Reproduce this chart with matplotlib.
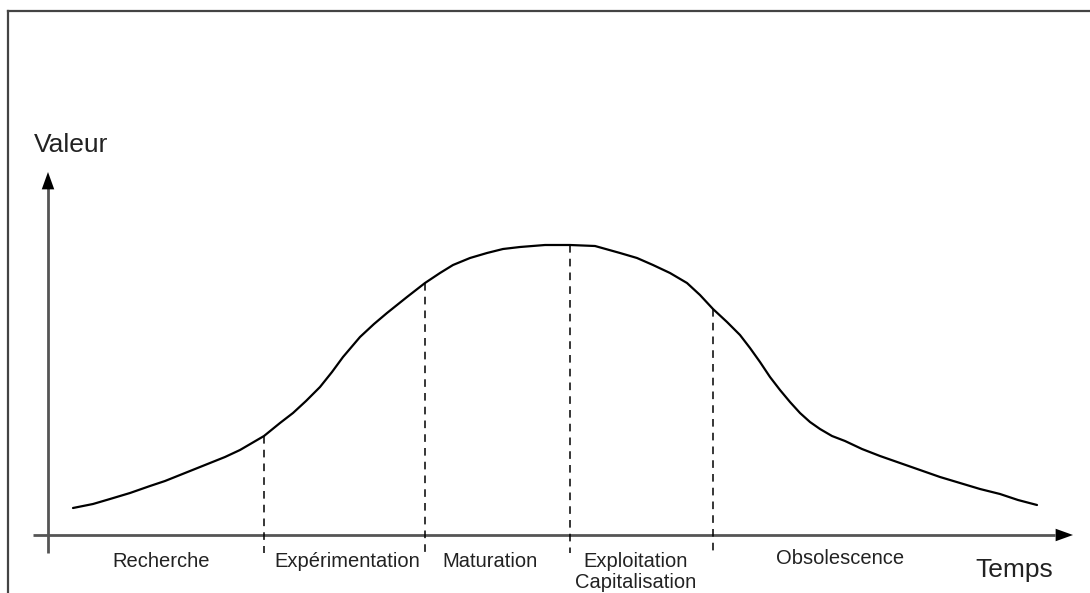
import matplotlib
matplotlib.use("Agg")
import matplotlib.pyplot as plt
from matplotlib.lines import Line2D

# Curve: time (px from y-axis) and value (px above x-axis)
time = [25, 45, 62, 82, 102, 117, 132, 147, 162, 177, 192, 204, 216, 232, 245, 258,
        272, 284, 295, 312, 326, 339, 349, 359, 368, 377, 392, 405, 422, 439, 455,
        472, 497, 522, 547, 572, 589, 605, 622, 639, 652, 665, 679, 692, 702, 712,
        722, 732, 742, 752, 762, 772, 784, 797, 814, 832, 852, 872, 892, 912, 932,
        952, 970, 989]
value = [27, 31, 36, 42, 49, 54, 60, 66, 72, 78, 85, 92, 99, 112, 122, 134,
         148, 163, 178, 198, 211, 222, 230, 238, 245, 252, 262, 270, 277, 282, 286,
         288, 290, 290, 289, 282, 277, 270, 262, 252, 240, 226, 213, 200, 187, 173,
         158, 145, 133, 122, 113, 106, 99, 94, 86, 79, 72, 65, 58, 52, 46,
         41, 35, 30]

# Phase boundaries (time) and the curve value there
bounds_t = [216, 377, 522, 665]
bounds_v = [99, 252, 290, 226]
bounds_bottom = -18

phases = ["Recherche", "Expérimentation", "Maturation", "Exploitation",
          "Capitalisation", "Obsolescence"]
phase_x = [113, 299, 442, 588, 588, 792]
phase_base = [-32, -32, -32, -32, -53, -29]

x_label = "Temps"
y_label = "Valeur"

fig = plt.figure(figsize=(10.9, 5.93), dpi=100)
ax = fig.add_axes([0, 0, 1, 1])
ax.set_xlim(-48, 1042)
ax.set_ylim(-58, 535)
ax.axis("off")

font = "Liberation Sans"

# frame (left and top only)
fig.add_artist(Line2D([8 / 1090, 8 / 1090], [0, 1 - 11 / 593], transform=fig.transFigure,
                      color="#444444", lw=1.6))
fig.add_artist(Line2D([8 / 1090, 1], [1 - 11 / 593, 1 - 11 / 593], transform=fig.transFigure,
                      color="#444444", lw=1.6))

# axes lines with arrows
ax.plot([-15, 1007], [0, 0], color="#555555", lw=2.0, solid_capstyle="butt")
ax.plot([0, 0], [-18, 348], color="#555555", lw=2.0, solid_capstyle="butt")
ax.annotate("", xy=(1025, 0), xytext=(1003, 0),
            arrowprops=dict(arrowstyle="-|>,head_length=1.25,head_width=0.45",
                            color="black", lw=0, shrinkA=0, shrinkB=0))
ax.annotate("", xy=(0, 363), xytext=(0, 340),
            arrowprops=dict(arrowstyle="-|>,head_length=1.25,head_width=0.45",
                            color="black", lw=0, shrinkA=0, shrinkB=0))

# curve
ax.plot(time, value, color="black", lw=1.6, solid_joinstyle="round",
        solid_capstyle="round")

# dashed boundaries
for t, v in zip(bounds_t, bounds_v):
    ax.plot([t, t], [v, bounds_bottom], color="black", lw=1.1,
            linestyle=(0, (5, 4)))

# phase labels
for name, x, b in zip(phases, phase_x, phase_base):
    ax.text(x, b, name, ha="center", va="baseline", fontsize=14.5,
            family=font, color="#222222")

ax.text(966, -42, x_label, ha="center", va="baseline", fontsize=19,
        family=font, color="#222222")
ax.text(23, 383, y_label, ha="center", va="baseline", fontsize=19,
        family=font, color="#222222")

fig.savefig("out.png", dpi=100)
